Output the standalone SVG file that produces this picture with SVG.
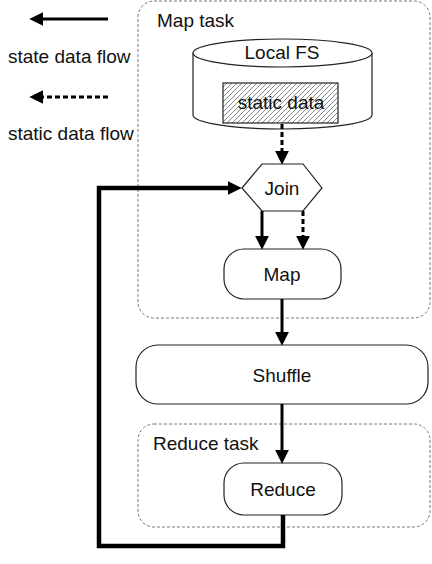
<svg xmlns="http://www.w3.org/2000/svg" width="432" height="564" viewBox="0 0 432 564">
<style>
text{font-family:"Liberation Sans",Arial,sans-serif;font-size:19px;fill:#111}
.mid{text-anchor:middle}
.task{fill:none;stroke:#777;stroke-width:1;stroke-dasharray:3 2}
.node{fill:#fff;stroke:#222;stroke-width:1.2}
.solid{fill:none;stroke:#000;stroke-width:3}
.dash{fill:none;stroke:#000;stroke-width:3;stroke-dasharray:5 3}
.loop{fill:none;stroke:#000;stroke-width:4.5;stroke-linejoin:miter}
</style>
<defs>
<marker id="ah" markerUnits="userSpaceOnUse" markerWidth="14" markerHeight="14" viewBox="0 0 13 13" refX="4" refY="6.5" orient="auto">
<path d="M0,0 L13,6.5 L0,13 Z" fill="#000"/>
</marker>
<pattern id="hatch" patternUnits="userSpaceOnUse" width="5" height="5">
<path d="M-1,1 L1,-1 M0,5 L5,0 M4,6 L6,4" stroke="#555" stroke-width="0.7"/>
</pattern>
</defs>
<rect width="432" height="564" fill="#fff"/>

<g id="legend">
<line class="solid" x1="108" y1="19" x2="39" y2="19" marker-end="url(#ah)"/>
<text x="8" y="63">state data flow</text>
<line class="dash" x1="108" y1="97" x2="39" y2="97" marker-end="url(#ah)"/>
<text x="8" y="140">static data flow</text>
</g>

<g id="map-task">
<rect class="task" x="138" y="1" width="292" height="317" rx="16"/>
<text x="157" y="27">Map task</text>
</g>

<g id="reduce-task">
<rect class="task" x="138" y="424" width="292" height="103" rx="16"/>
<text x="153" y="450">Reduce task</text>
</g>

<g id="local-fs">
<path class="node" d="M193,53 V115 A89.5,14 0 0 0 372,115 V53"/>
<ellipse class="node" cx="282.5" cy="53" rx="89.5" ry="14"/>
<text class="mid" x="282" y="59">Local FS</text>
</g>

<g id="static-data">
<rect x="223" y="83" width="115" height="40" fill="url(#hatch)" stroke="#222" stroke-width="1.2"/>
<text class="mid" x="281" y="109">static data</text>
</g>

<g id="join">
<polygon class="node" points="242,188 262,164 303,164 322,188 303,211 262,211"/>
<text class="mid" x="282" y="195">Join</text>
</g>

<g id="map">
<rect class="node" x="224" y="249" width="117" height="50" rx="20"/>
<text class="mid" x="282" y="281">Map</text>
</g>

<g id="shuffle">
<rect class="node" x="136" y="345" width="292" height="59" rx="22"/>
<text class="mid" x="282" y="382">Shuffle</text>
</g>

<g id="reduce">
<rect class="node" x="224" y="463" width="118" height="52" rx="20"/>
<text class="mid" x="283" y="496">Reduce</text>
</g>

<g id="connectors">
<line class="dash" x1="282" y1="124" x2="282" y2="155" marker-end="url(#ah)"/>
<line class="solid" x1="262" y1="211" x2="262" y2="240" marker-end="url(#ah)"/>
<line class="dash" x1="303" y1="211" x2="303" y2="240" marker-end="url(#ah)"/>
<line class="solid" x1="282" y1="299" x2="282" y2="336" marker-end="url(#ah)"/>
<line class="solid" x1="282" y1="404" x2="282" y2="454" marker-end="url(#ah)"/>
<path class="loop" d="M283,515 V546 H99 V188 H232" marker-end="url(#ah)"/>
</g>
</svg>
